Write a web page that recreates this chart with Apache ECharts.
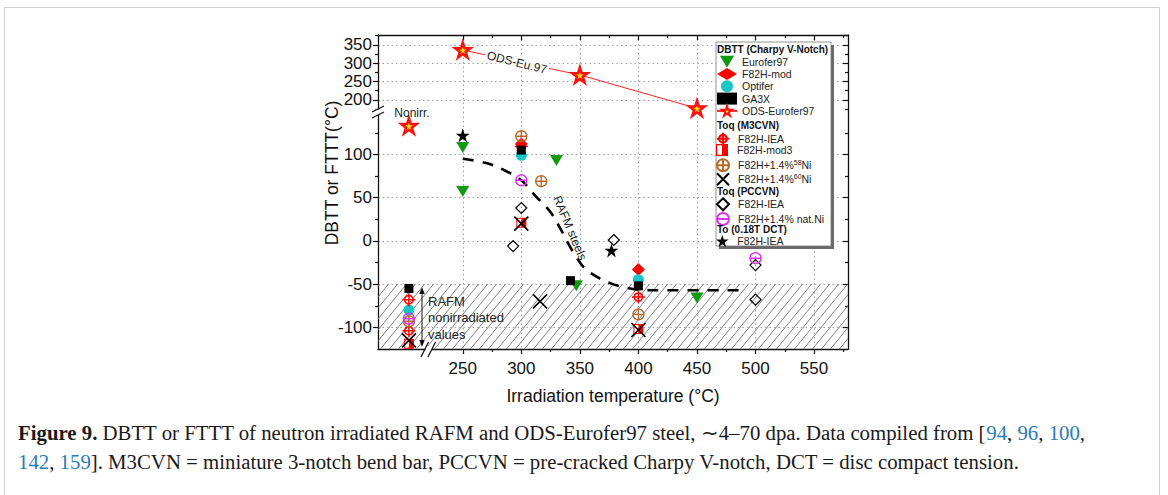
<!DOCTYPE html>
<html>
<head>
<meta charset="utf-8">
<script src="https://cdn.jsdelivr.net/npm/echarts@6/dist/echarts.min.js"></script>
<style>
  html, body { margin: 0; padding: 0; background: #fff; }
  #chart { width: 1168px; height: 495px; }
</style>
</head>
<body>
<div id="chart"></div>
<script>
// x position used for the non-irradiated reference values (left of the axis break)
const nonirrX = 204;

// axis ranges (two stacked y segments, broken x axis)
const xMin = 177.6, xMax = 579;
const yTopMin = 167, yTopMax = 377;
const yLowMin = -125, yLowMax = 149;
const hatchTop = -50;

// tick values
const xTicks = [250, 300, 350, 400, 450, 500, 550];
const xMinorTicks = [275, 325, 375, 425, 475, 525, 575];
const yTopTicks = [200, 250, 300, 350];
const yTopMinor = [175, 225, 275, 325, 375];
const yLowTicks = [-100, -50, 0, 50, 100];
const yLowMinor = [-75, -25, 25, 75, 125];

// DBTT (Charpy V-Notch)
const eurofer97X = [250, 250, 330, 347, 450];
const eurofer97Y = [108, 57, 93, -52, -66];
const f82hModX = [300, 400];
const f82hModY = [112, -33];
const optiferX = [nonirrX, 300, 400];
const optiferY = [-80, 99, -45];
const ga3xX = [nonirrX, 300, 342, 400];
const ga3xY = [-55, 105, -46, -52];
const odsX = [250, 350, 450];
const odsY = [336, 268, 177];
const odsNonirrX = [nonirrX];
const odsNonirrY = [133];
// Toq (M3CVN)
const m3IeaX = [nonirrX, nonirrX, 300, 400];
const m3IeaY = [-68, -104, 109, -65];
const mod3X = [nonirrX, 300, 400];
const mod3Y = [-119, 21, -102];
const ni58X = [nonirrX, 300, 317, 400];
const ni58Y = [-93, 121, 69, -85];
const ni60X = [nonirrX, 300, 316, 400];
const ni60Y = [-115, 20, -70, -103];
// Toq (PCCVN)
const pcIeaX = [293, 300, 379, 500, 500];
const pcIeaY = [-6, 38, 1, -28, -68];
const natNiX = [nonirrX, 300, 500];
const natNiY = [-90, 70, -20];
// To (0.18T DCT)
const dctX = [250, 377];
const dctY = [122, -11];
// dashed trend "RAFM steels"
const curveX = [250, 270, 285, 300, 312, 325, 335, 343, 353, 365, 378, 393, 410, 490];
const curveY = [95, 90, 82, 70, 52, 33, 10, -10, -30, -42, -50, -55, -57, -57];

const FONT = '"Liberation Sans", Arial, sans-serif';
const SERIF = '"Liberation Serif", "Times New Roman", serif';
const pts = (xs, ys) => xs.map((x, i) => [x, ys[i]]);

const SYM = {
  down: 'path://M0 0 L20 0 L10 17 Z',
  star: 'path://M10 0 L12.245 6.91 L19.511 6.91 L13.633 11.18 L15.878 18.09 L10 13.82 L4.122 18.09 L6.367 11.18 L0.489 6.91 L7.755 6.91 Z',
  crossCircle: 'path://M0 10 H20 M10 0 V20 M3.5 10 A6.5 6.5 0 1 1 16.5 10 A6.5 6.5 0 1 1 3.5 10 Z',
  circlePlus: 'path://M1 10 A9 9 0 1 1 19 10 A9 9 0 1 1 1 10 Z M10 1 V19 M1 10 H19',
  circleMinus: 'path://M1 10 A9 9 0 1 1 19 10 A9 9 0 1 1 1 10 Z M1 10 H19',
  cross: 'path://M0 0 L20 20 M20 0 L0 20',
  halfSquare: 'path://M0 0 H20 V20 H0 Z M2 2 V18 H18 V2 Z M10 0 H20 V20 H10 Z',
  diamond: 'path://M10 0 L20 10 L10 20 L0 10 Z'
};

function hatchPattern() {
  const c = document.createElement('canvas');
  c.width = 9; c.height = 11;
  const g = c.getContext('2d');
  g.strokeStyle = '#6a6a6a';
  g.lineWidth = 0.85;
  g.beginPath();
  [-9, 0, 9].forEach(function (dx) {
    g.moveTo(dx - 1, 11 + 11 / 9);
    g.lineTo(dx + 10, -11 / 9);
  });
  g.stroke();
  return { image: c, repeat: 'repeat', imageWidth: 9, imageHeight: 11 };
}

const axisColor = '#111';
const gridDots = { show: true, lineStyle: { color: '#a0a0a0', width: 1, type: [1.5, 3] } };
function mkAxis(gridIndex, position, min, max, ticks, o) {
  return {
    type: 'value', gridIndex: gridIndex, position: position, min: min, max: max,
    axisLine: { show: o.line !== false, onZero: false, lineStyle: { color: axisColor, width: 1.3 } },
    axisTick: { show: true, inside: !!o.inside, length: o.len || 5, customValues: ticks,
      lineStyle: { color: axisColor, width: 1.2 } },
    axisLabel: o.labels
      ? { show: true, customValues: ticks, margin: o.margin || 6, color: '#111', fontSize: 17, fontFamily: FONT }
      : { show: false },
    splitLine: o.grid ? gridDots : { show: false },
    minorTick: { show: false }
  };
}

const xBottom = mkAxis(1, 'bottom', xMin, xMax, xTicks, { labels: true, grid: true, margin: 11 });
xBottom.name = 'Irradiation temperature (°C)';
xBottom.nameLocation = 'middle';
xBottom.nameGap = 38;
xBottom.nameTextStyle = { fontSize: 17.5, fontFamily: FONT, color: '#111' };

function scatter(name, xs, ys, symbol, size, itemStyle, extra) {
  return Object.assign({
    type: 'scatter', name: name, xAxisIndex: 2, yAxisIndex: 4,
    data: pts(xs, ys), symbol: symbol, symbolSize: size,
    itemStyle: Object.assign({ opacity: 1 }, itemStyle)
  }, extra || {});
}
const open = (c, w) => ({ color: 'transparent', borderColor: c, borderWidth: w });

function legendAt(top, names, gap) {
  return {
    orient: 'vertical', left: 716, top: top, padding: 0, itemWidth: 20, itemHeight: 12,
    itemGap: gap || 0, selectedMode: false, data: names,
    textStyle: {
      fontSize: 10.5, fontFamily: FONT, color: '#222', lineHeight: 12,
      rich: {
        n: { fontSize: 10.5, fontFamily: FONT, color: '#222', lineHeight: 12 },
        s: { fontSize: 7, fontFamily: FONT, color: '#222', lineHeight: 8, verticalAlign: 'top' }
      }
    },
    formatter: function (name) {
      const label = name.replace(/ \((M3|PC|DCT)\)$/, '');
      const m = label.match(/^(.*%)(\d\d)(Ni)$/);
      return m ? '{n|' + m[1] + '}{s|' + m[2] + '}{n|' + m[3] + '}' : label;
    }
  };
}

const headerStyle = { fill: '#111', font: 'bold 10px ' + FONT, verticalAlign: 'middle' };
const noteFont = '13px ' + FONT;
const odsStyle = { color: '#ffee00', borderColor: '#ff1010', borderWidth: 2.6 };

const chart = echarts.init(document.getElementById('chart'), null, { renderer: 'svg' });

const option = {
  animation: false,
  backgroundColor: '#fff',
  grid: [
    { left: 378, right: 320, top: 35, height: 77, outerBoundsMode: 'none' },
    { left: 378, right: 320, top: 112, height: 237, outerBoundsMode: 'none' }
  ],
  xAxis: [
    mkAxis(0, 'top', xMin, xMax, xTicks, { inside: true, grid: true }),
    mkAxis(0, 'top', xMin, xMax, xMinorTicks, { inside: true, len: 3, line: false }),
    xBottom,
    mkAxis(1, 'bottom', xMin, xMax, xMinorTicks, { len: 3, line: false })
  ],
  yAxis: [
    mkAxis(0, 'left', yTopMin, yTopMax, yTopTicks, { labels: true, grid: true }),
    mkAxis(0, 'left', yTopMin, yTopMax, yTopMinor, { len: 3, line: false }),
    mkAxis(0, 'right', yTopMin, yTopMax, yTopTicks, { inside: true }),
    mkAxis(0, 'right', yTopMin, yTopMax, yTopMinor, { inside: true, len: 3, line: false }),
    mkAxis(1, 'left', yLowMin, yLowMax, yLowTicks, { labels: true, grid: true }),
    mkAxis(1, 'left', yLowMin, yLowMax, yLowMinor, { len: 3, line: false }),
    mkAxis(1, 'right', yLowMin, yLowMax, yLowTicks, { inside: true }),
    mkAxis(1, 'right', yLowMin, yLowMax, yLowMinor, { inside: true, len: 3, line: false })
  ],
  legend: [
    legendAt(55.7, ['Eurofer97', 'F82H-mod', 'Optifer', 'GA3X', 'ODS-Eurofer97'], 0.3),
    legendAt(131.7, ['F82H-IEA (M3)']),
    legendAt(144, ['F82H-mod3']),
    legendAt(158.3, ['F82H+1.4%58Ni']),
    legendAt(172.3, ['F82H+1.4%60Ni']),
    legendAt(197.3, ['F82H-IEA (PC)', 'F82H+1.4% nat.Ni'], 0.7),
    legendAt(235, ['F82H-IEA (DCT)'])
  ],
  series: [
    {
      type: 'line', name: 'RAFM steels', xAxisIndex: 2, yAxisIndex: 4, z: 1, silent: true,
      data: pts(curveX, curveY), smooth: 0.35, symbol: 'none',
      lineStyle: { color: '#000', width: 2.6, type: [11, 9] },
      markArea: {
        silent: true,
        itemStyle: { color: hatchPattern() },
        data: [[{ yAxis: yLowMin }, { yAxis: hatchTop }]]
      }
    },
    scatter('Eurofer97', eurofer97X, eurofer97Y, SYM.down, [13, 11], { color: '#109a10' }),
    scatter('F82H-mod', f82hModX, f82hModY, 'diamond', 13, { color: '#ff0000' }),
    scatter('Optifer', optiferX, optiferY, 'circle', 11, { color: '#17c6c6' }),
    scatter('GA3X', ga3xX, ga3xY, 'rect', 9, { color: '#000' }, { z: 3 }),
    {
      type: 'line', name: 'ODS-Eurofer97', xAxisIndex: 0, yAxisIndex: 0,
      data: pts(odsX, odsY), symbol: SYM.star, symbolSize: 15,
      lineStyle: { color: '#ff2020', width: 1 },
      itemStyle: odsStyle
    },
    scatter('ODS-Eurofer97', odsNonirrX, odsNonirrY, SYM.star, 15, odsStyle),
    scatter('F82H-IEA (M3)', m3IeaX, m3IeaY, SYM.crossCircle, 13, open('#ff0000', 1.5)),
    scatter('F82H-mod3', mod3X, mod3Y, SYM.halfSquare, 10, { color: '#ff0000' }),
    scatter('F82H+1.4%58Ni', ni58X, ni58Y, SYM.circlePlus, 11, open('#b8692e', 1.4)),
    scatter('F82H+1.4%60Ni', ni60X, ni60Y, SYM.cross, 14, open('#000', 1.6)),
    scatter('F82H-IEA (PC)', pcIeaX, pcIeaY, SYM.diamond, 11, open('#000', 1.2)),
    scatter('F82H+1.4% nat.Ni', natNiX, natNiY, SYM.circleMinus, 11, open('#dd33ee', 1.5)),
    scatter('F82H-IEA (DCT)', dctX, dctY, SYM.star, 14, { color: '#000' })
  ],
  graphic: [
    // page frame
    { type: 'rect', z: 0, silent: true, shape: { x: 4.5, y: 7.5, width: 1155, height: 520 },
      style: { fill: 'none', stroke: '#cfcfcf', lineWidth: 1 } },
    // legend box with shadow
    { type: 'rect', z: 3, silent: true, shape: { x: 719, y: 45, width: 115, height: 204 }, style: { fill: '#6a6a6a' } },
    { type: 'rect', z: 3, silent: true, shape: { x: 716, y: 42, width: 115, height: 204 },
      style: { fill: '#fff', stroke: '#777', lineWidth: 0.8 } },
    { type: 'text', z: 5, x: 717, y: 49.5, style: Object.assign({ text: 'DBTT (Charpy V-Notch)' }, headerStyle) },
    { type: 'text', z: 5, x: 717, y: 125, style: Object.assign({ text: 'Toq (M3CVN)' }, headerStyle) },
    { type: 'text', z: 5, x: 717, y: 191, style: Object.assign({ text: 'Toq (PCCVN)' }, headerStyle) },
    { type: 'text', z: 5, x: 717, y: 229.3, style: Object.assign({ text: 'To (0.18T DCT)' }, headerStyle) },
    // axis breaks
    { type: 'rect', z: 10, silent: true, shape: { x: 373, y: 109.5, width: 10, height: 5 }, style: { fill: '#fff' } },
    { type: 'line', z: 11, silent: true, shape: { x1: 372, y1: 112, x2: 384, y2: 106 }, style: { stroke: '#111', lineWidth: 1.2 } },
    { type: 'line', z: 11, silent: true, shape: { x1: 372, y1: 118, x2: 384, y2: 112 }, style: { stroke: '#111', lineWidth: 1.2 } },
    { type: 'rect', z: 10, silent: true, shape: { x: 425.5, y: 346, width: 6.5, height: 6 }, style: { fill: '#fff' } },
    { type: 'line', z: 11, silent: true, shape: { x1: 421, y1: 357, x2: 428.5, y2: 342 }, style: { stroke: '#111', lineWidth: 1.2 } },
    { type: 'line', z: 11, silent: true, shape: { x1: 428, y1: 357, x2: 435.5, y2: 342 }, style: { stroke: '#111', lineWidth: 1.2 } },
    // annotations
    { type: 'text', z: 6, x: 517, y: 62.5, rotation: -0.245,
      style: { text: 'ODS-Eu.97', font: '12px ' + FONT, fill: '#222', align: 'center', verticalAlign: 'middle',
        backgroundColor: '#fff', padding: [0, 2] } },
    { type: 'text', z: 6, x: 412, y: 112.5,
      style: { text: 'Nonirr.', font: '12px ' + FONT, fill: '#222', align: 'center', verticalAlign: 'middle' } },
    { type: 'text', z: 6, x: 570, y: 228, rotation: -1.17,
      style: { text: 'RAFM steels', font: '12px ' + FONT, fill: '#222', align: 'center', verticalAlign: 'middle' } },
    { type: 'text', z: 6, x: 428, y: 301,
      style: { text: 'RAFM', font: noteFont, fill: '#222', verticalAlign: 'middle' } },
    { type: 'text', z: 6, x: 428, y: 317.7,
      style: { text: 'nonirradiated', font: noteFont, fill: '#222', verticalAlign: 'middle' } },
    { type: 'text', z: 6, x: 428, y: 334.3,
      style: { text: 'values', font: noteFont, fill: '#222', verticalAlign: 'middle' } },
    { type: 'line', z: 6, silent: true, shape: { x1: 422, y1: 292, x2: 422, y2: 342 }, style: { stroke: '#111', lineWidth: 1 } },
    { type: 'polygon', z: 6, silent: true, shape: { points: [[422, 287], [419.3, 294], [424.7, 294]] }, style: { fill: '#111' } },
    { type: 'polygon', z: 6, silent: true, shape: { points: [[422, 347], [419.3, 340], [424.7, 340]] }, style: { fill: '#111' } },
    // y axis title
    { type: 'text', z: 6, x: 332, y: 173, rotation: Math.PI / 2,
      style: { text: 'DBTT or FTTT(°C)', font: '17.5px ' + FONT, fill: '#111', align: 'center', verticalAlign: 'middle' } },
    // caption
    { type: 'text', z: 6, x: 18, y: 418,
      style: {
        text: '{b|Figure 9.} DBTT or FTTT of neutron irradiated RAFM and ODS-Eurofer97 steel, ∼4–70 dpa. Data compiled from [{l|94}, {l|96}, {l|100},\n{l|142}, {l|159}]. M3CVN = miniature 3-notch bend bar, PCCVN = pre-cracked Charpy V-notch, DCT = disc compact tension.',
        font: '20.8px ' + SERIF, fill: '#1a1a1a', lineHeight: 29, verticalAlign: 'top',
        rich: {
          b: { fontWeight: 'bold', fontSize: 20.8, fontFamily: SERIF, fill: '#1a1a1a', lineHeight: 29 },
          l: { fontSize: 20.8, fontFamily: SERIF, fill: '#2b7bb9', lineHeight: 29 }
        }
      } }
  ]
};

chart.setOption(option);
</script>
</body>
</html>
